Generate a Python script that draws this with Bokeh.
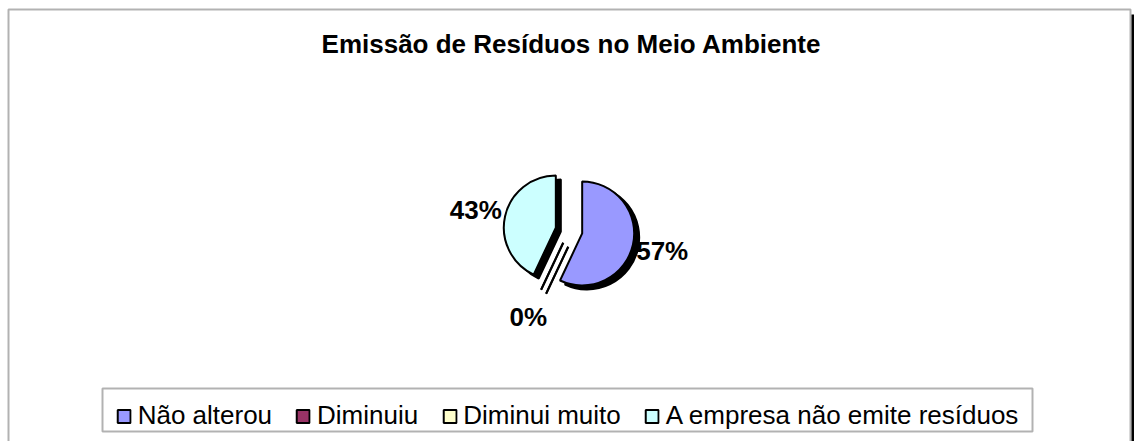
import numpy as np
from bokeh.plotting import figure
from bokeh.models import Range1d, Legend, LegendItem, BoxAnnotation, ColumnDataSource
from bokeh.core.properties import value
from bokeh.embed import file_html
from bokeh.resources import INLINE

# ---------------- data ----------------
title_text = "Emissão de Resíduos no Meio Ambiente"
categories = ["Não alterou", "Diminuiu", "Diminui muito", "A empresa não emite resíduos"]
percent_values = [57, 0, 0, 43]
colors = ["#9999FF", "#993366", "#FFFFCC", "#CCFFFF"]

# ---------------- layout ----------------
W, H = 1134, 441
FONT = "Liberation Sans"

p = figure(width=W, height=H, x_range=Range1d(0, W), y_range=Range1d(0, H),
           output_backend="svg", toolbar_location=None,
           x_axis_location=None, y_axis_location=None,
           min_border=0, outline_line_color=None, background_fill_color="white")
p.grid.visible = False

# chart area border (bottom edge lies below the visible page) + right shadow
p.add_layout(BoxAnnotation(left=8, right=1130, top=H - 9, bottom=-30,
                           fill_color=None, line_color="black", line_width=2))
p.add_layout(BoxAnnotation(left=1131, right=1134, top=H - 14, bottom=-30,
                           fill_color="black", fill_alpha=1, line_color=None))

# title
p.text(x=[571], y=[H - 43], text=[title_text],
       text_font=value(FONT), text_font_style="bold", text_font_size="26px",
       text_align="center", text_baseline="middle", text_color="black")

# ---------------- pie ----------------
cx, cy = 568.5, H - 230.0
R = 52.0
explode = 13.5
sh_dx, sh_dy = 5.0, -4.0
label_dist = 82.0

vals = np.array(percent_values, dtype=float)
frac = vals / vals.sum()
theta_end = np.cumsum(frac) * 2 * np.pi          # clockwise from 12 o'clock
theta_start = theta_end - frac * 2 * np.pi
theta_mid = (theta_start + theta_end) / 2
ux, uy = np.sin(theta_mid), np.cos(theta_mid)
ex, ey = cx + explode * ux, cy + explode * uy
start_angle = np.pi / 2 - theta_end
end_angle = np.pi / 2 - theta_start

nz = vals > 0
src = ColumnDataSource(dict(
    x=ex[nz], y=ey[nz], sx=ex[nz] + sh_dx, sy=ey[nz] + sh_dy,
    start=start_angle[nz], end=end_angle[nz],
    color=[c for c, k in zip(colors, nz) if k],
))

# shadows
p.wedge(x="sx", y="sy", radius=R, start_angle="start", end_angle="end",
        direction="anticlock", source=src, fill_color="black", line_color="black", line_width=2)
zx0 = ex[~nz]; zy0 = ey[~nz]
zx1 = zx0 + R * np.sin(theta_start[~nz]); zy1 = zy0 + R * np.cos(theta_start[~nz])
p.segment(x0=zx0 + sh_dx, y0=zy0 + sh_dy, x1=zx1 + sh_dx, y1=zy1 + sh_dy,
          line_color="black", line_width=2)

# slices
p.wedge(x="x", y="y", radius=R, start_angle="start", end_angle="end",
        direction="anticlock", source=src, fill_color="color", line_color="black", line_width=2)
p.segment(x0=zx0, y0=zy0, x1=zx1, y1=zy1, line_color="black", line_width=2)

# data labels (identical overlapping labels drawn once)
lx, ly, lt, seen = [], [], [], set()
for i, v in enumerate(percent_values):
    px = ex[i] + label_dist * ux[i]
    py = ey[i] + label_dist * uy[i]
    key = (round(px), round(py))
    if key in seen:
        continue
    seen.add(key)
    lx.append(px); ly.append(py); lt.append(f"{v}%")
p.text(x=lx, y=ly, text=lt, text_font=value(FONT), text_font_style="bold",
       text_font_size="26px", text_align="center", text_baseline="middle", text_color="black")

# ---------------- legend ----------------
# legend frame
p.add_layout(BoxAnnotation(left=102, right=1032, top=H - 388, bottom=H - 431,
                           fill_color="white", fill_alpha=1, line_color="black", line_width=2))

nan = [np.nan] * len(categories)
leg_src = ColumnDataSource(dict(l=nan, r=nan, t=nan, b=nan, color=colors))
proxy = p.quad(left="l", right="r", top="t", bottom="b", source=leg_src,
               fill_color="color", line_color="black", line_width=2)
items = [LegendItem(label=cat, renderers=[proxy], index=i) for i, cat in enumerate(categories)]

legend = Legend(items=items, orientation="horizontal", location="bottom_center",
                label_text_font=FONT, label_text_font_size="26px", label_text_color="black",
                glyph_width=16, glyph_height=16, label_standoff=6, spacing=23,
                padding=6, margin=10, border_line_color=None,
                background_fill_alpha=0)
p.add_layout(legend)

open("out.html", "w").write(file_html(p, INLINE))
